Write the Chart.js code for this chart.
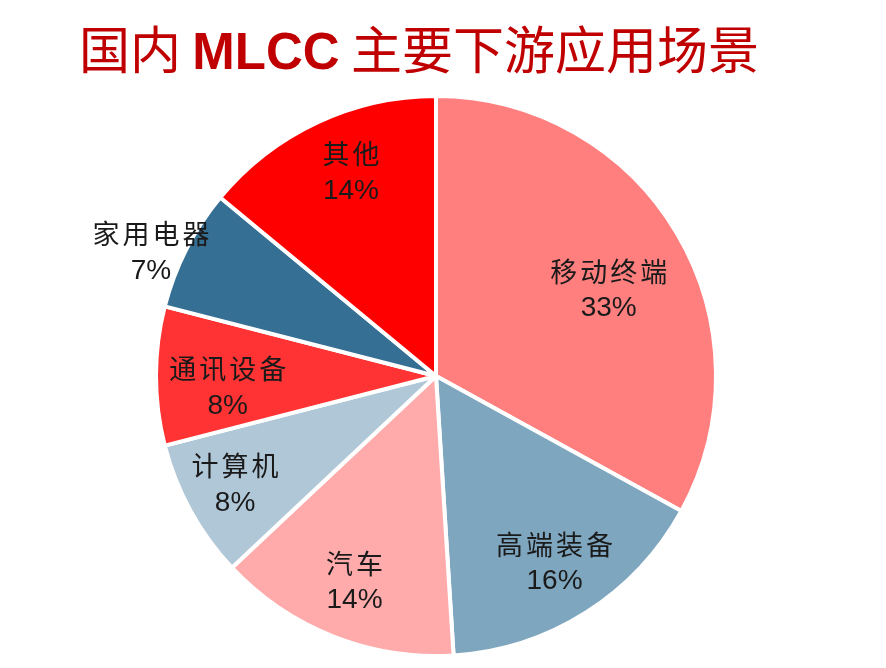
<!DOCTYPE html>
<html>
<head>
<meta charset="utf-8">
<script src="https://cdn.jsdelivr.net/npm/chart.js@4/dist/chart.umd.min.js"></script>
<style>
  html, body { margin: 0; padding: 0; background: #fff; }
  #wrap { position: relative; width: 886px; height: 668px; }
  #title {
    position: absolute; left: 0; top: 17px; width: 838px; text-align: center;
    color: #C00000; font-size: 51px; line-height: 60px; white-space: nowrap;
    font-family: "Noto Sans CJK SC", sans-serif;
  }
  #title b { font-family: "Liberation Sans", Arial, sans-serif; font-weight: bold; }
  canvas { position: absolute; left: 0; top: 0; }
</style>
</head>
<body>
<div id="wrap">
  <canvas id="pie" width="886" height="668"></canvas>
  <div id="title">国内 <b>MLCC</b> 主要下游应用场景</div>
</div>
<script>
// 数据
const categories = ["移动终端", "高端装备", "汽车", "计算机", "通讯设备", "家用电器", "其他"];
const shares = [33, 16, 14, 8, 8, 7, 14];
const colors = ["#FF7F7F", "#7FA6BF", "#FFABAB", "#B0C7D7", "#FF3333", "#356F94", "#FF0000"];

// 标签位置：[半径倍数, 角度偏移(度)]，家用电器放在饼外
const labelPos = {
  "移动终端": [0.69, 4],
  "通讯设备": [0.745, -3],
  "计算机": [0.815, 0.5],
  "家用电器": [1.11, -3.5],
  "其他": [0.79, 2.6]
};

const sliceLabels = {
  id: "sliceLabels",
  afterDatasetsDraw(chart) {
    const ctx = chart.ctx;
    const meta = chart.getDatasetMeta(0);
    ctx.save();
    ctx.fillStyle = "#1a1a1a";
    ctx.textAlign = "center";
    ctx.textBaseline = "middle";
    meta.data.forEach((arc, i) => {
      const p = arc.getProps(["x", "y", "startAngle", "endAngle", "outerRadius"], true);
      const pos = labelPos[categories[i]] || [0.79, 0];
      const mid = (p.startAngle + p.endAngle) / 2 + pos[1] * Math.PI / 180;
      const x = p.x + Math.cos(mid) * p.outerRadius * pos[0];
      const y = p.y + Math.sin(mid) * p.outerRadius * pos[0];
      ctx.font = '27px "Noto Sans CJK SC", sans-serif';
      ctx.letterSpacing = "3px";
      ctx.fillText(categories[i], x + 1.5, y - 18);
      ctx.font = '28px "Liberation Sans", Arial, sans-serif';
      ctx.letterSpacing = "0px";
      ctx.fillText(shares[i] + "%", x, y + 19);
    });
    ctx.restore();
  }
};

new Chart(document.getElementById("pie"), {
  type: "pie",
  data: {
    labels: categories,
    datasets: [{
      data: shares,
      backgroundColor: colors,
      borderColor: "#ffffff",
      borderWidth: 4
    }]
  },
  options: {
    responsive: false,
    animation: false,
    layout: { padding: { left: 154, right: 168, top: 94, bottom: 10 } },
    plugins: {
      legend: { display: false },
      tooltip: { enabled: false }
    }
  },
  plugins: [sliceLabels]
});
</script>
</body>
</html>
